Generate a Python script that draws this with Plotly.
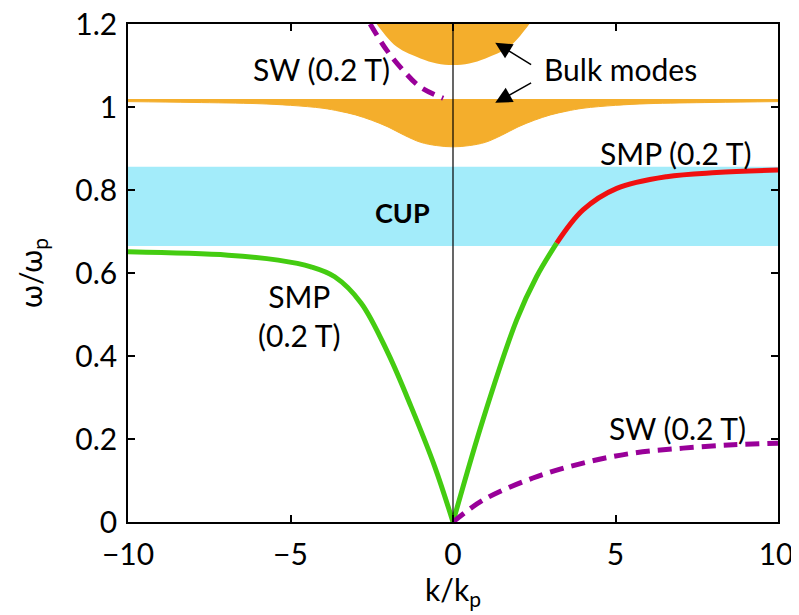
import plotly.graph_objects as go

# ---- data ----
# SMP (0.2 T) left branch (k<0)
smp_left_k = [-10, -6.92, -5.38, -4.37, -3.64, -2.83, -2.0, -1.29, -0.56, 0]
smp_left_w = [0.651, 0.643, 0.631, 0.615, 0.591, 0.528, 0.407, 0.278, 0.133, 0.0]
# SMP right branch, below CUP (green)
smp_right_k = [0, 0.92, 1.96, 2.57, 3.19]
smp_right_w = [0.0, 0.246, 0.487, 0.591, 0.672]
# SMP right branch, inside CUP (red)
smp_cup_k = [3.19, 4.0, 5.04, 6.57, 8.11, 10]
smp_cup_w = [0.672, 0.752, 0.804, 0.832, 0.842, 0.848]
# SW (0.2 T) lower branch
sw_low_k = [0, 0.93, 2.46, 4.0, 5.54, 7.08, 8.62, 10]
sw_low_w = [0.0, 0.053, 0.106, 0.142, 0.166, 0.178, 0.186, 0.19]
# SW (0.2 T) upper branch
sw_up_k = [-2.55, -2.04, -1.54, -1.02, -0.3]
sw_up_w = [1.2, 1.137, 1.089, 1.049, 1.021]
# lower bulk band: bottom edge, flat top
bulk_low_k = [-10, -8, -6, -5, -4, -3.5, -3, -2.5, -2, -1.5, -1, -0.5, 0,
              0.5, 1, 1.5, 2, 2.5, 3, 3.5, 4, 5, 6, 8, 10]
bulk_low_w = [1.013, 1.011, 1.008, 1.004, 0.997, 0.99, 0.981, 0.968, 0.952, 0.932, 0.915, 0.907, 0.904,
              0.907, 0.915, 0.932, 0.952, 0.968, 0.981, 0.99, 0.997, 1.004, 1.008, 1.011, 1.013]
bulk_low_top = 1.018
# upper bulk band: lower edge
bulk_up_k = [-2.6, -2.35, -1.73, -1.0, -0.5, 0, 0.5, 1.0, 1.73, 2.35, 2.6]
bulk_up_w = [1.23, 1.2, 1.145, 1.117, 1.105, 1.101, 1.105, 1.117, 1.145, 1.2, 1.23]
bulk_up_top = 1.3
# CUP band
cup_low, cup_high = 0.665, 0.856

x_ticks = [-10, -5, 0, 5, 10]
x_ticktext = ["\u221210", "\u22125", "0", "5", "10\u2009"]
y_ticks = [0, 0.2, 0.4, 0.6, 0.8, 1.0, 1.2]
y_ticktext = ["0", "0.2", "0.4", "0.6", "0.8", "1", "1.2"]

ORANGE = "#F4AE2C"
CYAN = "#A3ECFA"
GREEN = "#44CC11"
RED = "#F01010"
PURPLE = "#990099"
FONT = "Lato"
FS = 30

fig = go.Figure()

# CUP band
fig.add_shape(type="rect", xref="x", yref="y", x0=-10, x1=10, y0=cup_low, y1=cup_high,
              fillcolor=CYAN, line_width=0, layer="below")

# lower bulk band
fig.add_trace(go.Scatter(x=bulk_low_k, y=[bulk_low_top] * len(bulk_low_k), mode="lines",
                         line=dict(color=ORANGE, width=1), hoverinfo="skip", showlegend=False))
fig.add_trace(go.Scatter(x=bulk_low_k, y=bulk_low_w, mode="lines",
                         line=dict(color=ORANGE, width=1, shape="spline", smoothing=1.0),
                         fill="tonexty", fillcolor=ORANGE, hoverinfo="skip", showlegend=False))
# upper bulk band
fig.add_trace(go.Scatter(x=bulk_up_k + [bulk_up_k[-1], bulk_up_k[0]],
                         y=bulk_up_w + [bulk_up_top, bulk_up_top],
                         mode="lines", line=dict(color=ORANGE, width=0, shape="spline"),
                         fill="toself", fillcolor=ORANGE, hoverinfo="skip", showlegend=False))

# vertical line at k=0
fig.add_shape(type="line", xref="x", yref="y", x0=0, x1=0, y0=0, y1=1.2,
              line=dict(color="black", width=1.2))

# curves
fig.add_trace(go.Scatter(x=smp_left_k, y=smp_left_w, mode="lines",
                         line=dict(color=GREEN, width=5, shape="spline"), showlegend=False))
fig.add_trace(go.Scatter(x=smp_right_k, y=smp_right_w, mode="lines",
                         line=dict(color=GREEN, width=5, shape="spline"), showlegend=False))
fig.add_trace(go.Scatter(x=smp_cup_k, y=smp_cup_w, mode="lines",
                         line=dict(color=RED, width=5, shape="spline"), showlegend=False))
fig.add_trace(go.Scatter(x=sw_low_k, y=sw_low_w, mode="lines",
                         line=dict(color=PURPLE, width=5, dash="14px,8px", shape="spline"), showlegend=False))
fig.add_trace(go.Scatter(x=sw_up_k, y=sw_up_w, mode="lines",
                         line=dict(color=PURPLE, width=5, dash="13px,8px", shape="spline"), showlegend=False))

txt = dict(family=FONT, size=FS, color="black")
annots = [
    dict(x=-4.05, y=1.092, text="SW (0.2 T)"),
    dict(x=2.75, y=1.092, text="Bulk modes", xanchor="left"),
    dict(x=6.85, y=0.89, text="SMP (0.2 T)"),
    dict(x=-4.75, y=0.497, text="SMP<br>(0.2 T)"),
    dict(x=6.9, y=0.226, text="SW (0.2 T)"),
]
for a in annots:
    fig.add_annotation(xref="x", yref="y", showarrow=False, font=txt, **a)
fig.add_annotation(xref="x", yref="y", x=-1.55, y=0.747, text="<b>CUP</b>", showarrow=False,
                   font=dict(family=FONT, size=27, color="black"))
# arrows
fig.add_annotation(xref="x", yref="y", axref="x", ayref="y", x=1.3, y=1.155, ax=2.45, ay=1.1,
                   text="", showarrow=True, arrowhead=2, arrowsize=2.2, arrowwidth=1.5, arrowcolor="black")
fig.add_annotation(xref="x", yref="y", axref="x", ayref="y", x=1.3, y=1.01, ax=2.45, ay=1.06,
                   text="", showarrow=True, arrowhead=2, arrowsize=2.2, arrowwidth=1.5, arrowcolor="black")

axis_common = dict(showgrid=False, zeroline=False, showline=True, linecolor="black", linewidth=1.5,
                   mirror="ticks", ticks="inside", ticklen=7, tickwidth=1.5, tickcolor="black",
                   automargin=False, ticklabeloverflow="allow",
                   tickfont=dict(family=FONT, size=FS, color="black"))
fig.update_xaxes(range=[-10, 10], tickvals=x_ticks, ticktext=x_ticktext, ticklabelstandoff=5,
                 title=dict(text="k/k<sub>p</sub>", font=dict(family=FONT, size=FS, color="black"), standoff=6),
                 **axis_common)
fig.update_yaxes(range=[0, 1.2], tickvals=y_ticks, ticktext=y_ticktext, ticklabelstandoff=3,
                 title=dict(text="\u03c9/\u03c9<sub>p</sub>", font=dict(family=FONT, size=FS, color="black"), standoff=24),
                 **axis_common)

fig.update_layout(width=791, height=607, margin=dict(l=120, r=21, t=16, b=93),
                  plot_bgcolor="white", paper_bgcolor="white", showlegend=False)

fig.write_html("out.html")
